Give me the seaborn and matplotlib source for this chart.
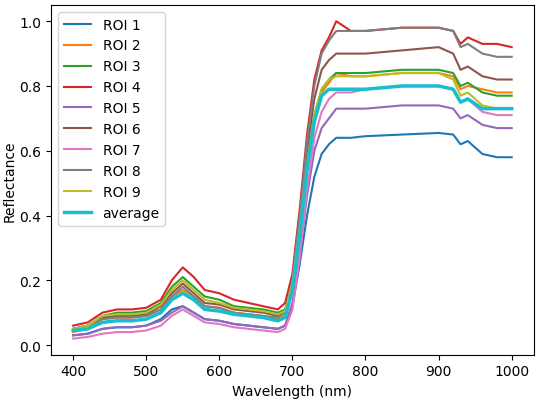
import matplotlib
matplotlib.use("Agg")
import matplotlib.pyplot as plt
import seaborn as sns
import pandas as pd

wavelength = [400,420,440,460,480,500,520,535,550,565,580,600,620,640,660,680,690,700,710,720,730,740,750,760,780,800,850,900,920,930,940,960,980,1000]
roi1 = [.03,.035,.05,.055,.055,.06,.08,.11,.12,.10,.08,.075,.065,.06,.055,.05,.06,.12,.25,.40,.52,.59,.62,.64,.64,.645,.65,.655,.65,.62,.63,.59,.58,.58]
roi2 = [.04,.05,.08,.085,.085,.09,.11,.15,.17,.15,.12,.115,.10,.095,.09,.08,.09,.18,.35,.55,.70,.78,.81,.84,.83,.83,.84,.84,.83,.79,.80,.79,.78,.78]
roi3 = [.05,.06,.09,.10,.10,.105,.13,.18,.21,.18,.15,.14,.12,.115,.11,.10,.11,.19,.36,.56,.71,.79,.82,.84,.84,.84,.85,.85,.84,.80,.81,.78,.77,.77]
roi4 = [.06,.07,.10,.11,.11,.115,.14,.20,.24,.21,.17,.16,.14,.13,.12,.11,.13,.22,.42,.65,.82,.91,.95,1.00,.97,.97,.98,.98,.97,.93,.95,.93,.93,.92]
roi5 = [.03,.035,.05,.055,.055,.06,.075,.10,.12,.10,.08,.075,.065,.06,.055,.05,.06,.13,.28,.46,.60,.67,.70,.73,.73,.73,.74,.74,.73,.70,.71,.68,.67,.67]
roi6 = [.05,.06,.085,.09,.09,.095,.12,.16,.19,.16,.13,.125,.11,.105,.10,.09,.10,.19,.38,.60,.76,.85,.88,.90,.90,.90,.91,.92,.90,.85,.86,.83,.82,.82]
roi7 = [.02,.025,.035,.04,.04,.045,.06,.09,.11,.09,.07,.065,.055,.05,.045,.04,.05,.11,.27,.48,.64,.72,.76,.78,.78,.79,.80,.80,.79,.75,.76,.72,.71,.71]
roi8 = [.05,.06,.08,.085,.085,.09,.11,.15,.18,.15,.12,.115,.10,.095,.09,.085,.10,.20,.40,.63,.80,.90,.94,.97,.97,.97,.98,.98,.97,.92,.93,.90,.89,.89]
roi9 = [.05,.06,.09,.095,.095,.10,.125,.17,.20,.17,.14,.13,.115,.11,.105,.095,.105,.19,.36,.56,.71,.79,.82,.83,.83,.83,.84,.84,.82,.77,.78,.74,.73,.73]
average = [.045,.05,.07,.075,.075,.08,.10,.14,.16,.14,.11,.105,.095,.09,.085,.075,.085,.17,.34,.54,.69,.77,.79,.79,.79,.79,.80,.80,.79,.75,.76,.73,.73,.73]

series = [("ROI 1", roi1), ("ROI 2", roi2), ("ROI 3", roi3), ("ROI 4", roi4), ("ROI 5", roi5),
          ("ROI 6", roi6), ("ROI 7", roi7), ("ROI 8", roi8), ("ROI 9", roi9)]
colors = ["#1f77b4","#ff7f0e","#2ca02c","#d62728","#9467bd","#8c564b","#e377c2","#7f7f7f","#bcbd22"]

fig, ax = plt.subplots(figsize=(5.39, 4.02), dpi=100)
for (name, vals), c in zip(series, colors):
    df = pd.DataFrame({"w": wavelength, "r": vals})
    sns.lineplot(data=df, x="w", y="r", ax=ax, color=c, label=name, linewidth=1.5)
df = pd.DataFrame({"w": wavelength, "r": average})
sns.lineplot(data=df, x="w", y="r", ax=ax, color="#17becf", label="average", linewidth=2.5)

ax.set_xlim(370, 1030)
ax.set_ylim(-0.03, 1.05)
ax.set_xlabel("Wavelength (nm)")
ax.set_ylabel("Reflectance", labelpad=2)
ax.legend(loc="upper left")
fig.subplots_adjust(left=0.095, right=0.99, bottom=0.115, top=0.985)
fig.savefig("out.png", dpi=100)
